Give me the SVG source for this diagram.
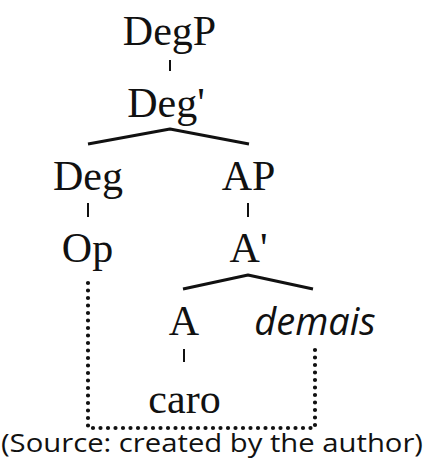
<svg xmlns="http://www.w3.org/2000/svg" width="426" height="470" viewBox="0 0 426 470">
<style>
.lbl{font-family:"Liberation Serif","Times New Roman",serif;font-size:42px;fill:#111;text-anchor:middle}
.it{font-family:"Open Sans","Noto Sans",sans-serif;font-style:italic;font-size:38px;fill:#111;text-anchor:middle}
.cap{font-family:"Open Sans","Noto Sans",sans-serif;font-size:26px;fill:#111}
.tick{stroke:#111;stroke-width:2;fill:none}
.br{stroke:#111;stroke-width:3;fill:none;stroke-linejoin:round}
.dot{stroke:#111;stroke-width:4.2;stroke-linecap:round;stroke-dasharray:0 7.5;fill:none}
</style>
<rect width="426" height="470" fill="#fff"/>
<g id="DegP"><text class="lbl" x="169.5" y="45">DegP</text></g>
<g id="DegBar"><text class="lbl" x="166" y="117">Deg'</text></g>
<g id="Deg"><text class="lbl" x="88" y="190">Deg</text></g>
<g id="AP"><text class="lbl" x="248.5" y="190">AP</text></g>
<g id="Op"><text class="lbl" x="87.5" y="262">Op</text></g>
<g id="ABar"><text class="lbl" x="248.5" y="262">A'</text></g>
<g id="A"><text class="lbl" x="184" y="335">A</text></g>
<g id="demais"><text class="it" x="315" y="335">demais</text></g>
<g id="caro"><text class="lbl" x="184.5" y="413">caro</text></g>
<g id="connectors">
<line class="tick" x1="170" y1="60" x2="170" y2="71"/>
<polyline class="br" points="88,144 170,129 249,144"/>
<line class="tick" x1="88" y1="203" x2="88" y2="217"/>
<line class="tick" x1="248" y1="203" x2="248" y2="217"/>
<polyline class="br" points="183,289 248,275 313,289"/>
<line class="tick" x1="184" y1="349" x2="184" y2="362"/>
<polyline class="dot" points="88,283 88,428 315,428 315,343"/>
</g>
<text class="cap" x="1" y="452" textLength="422" lengthAdjust="spacingAndGlyphs">(Source: created by the author)</text>
</svg>
